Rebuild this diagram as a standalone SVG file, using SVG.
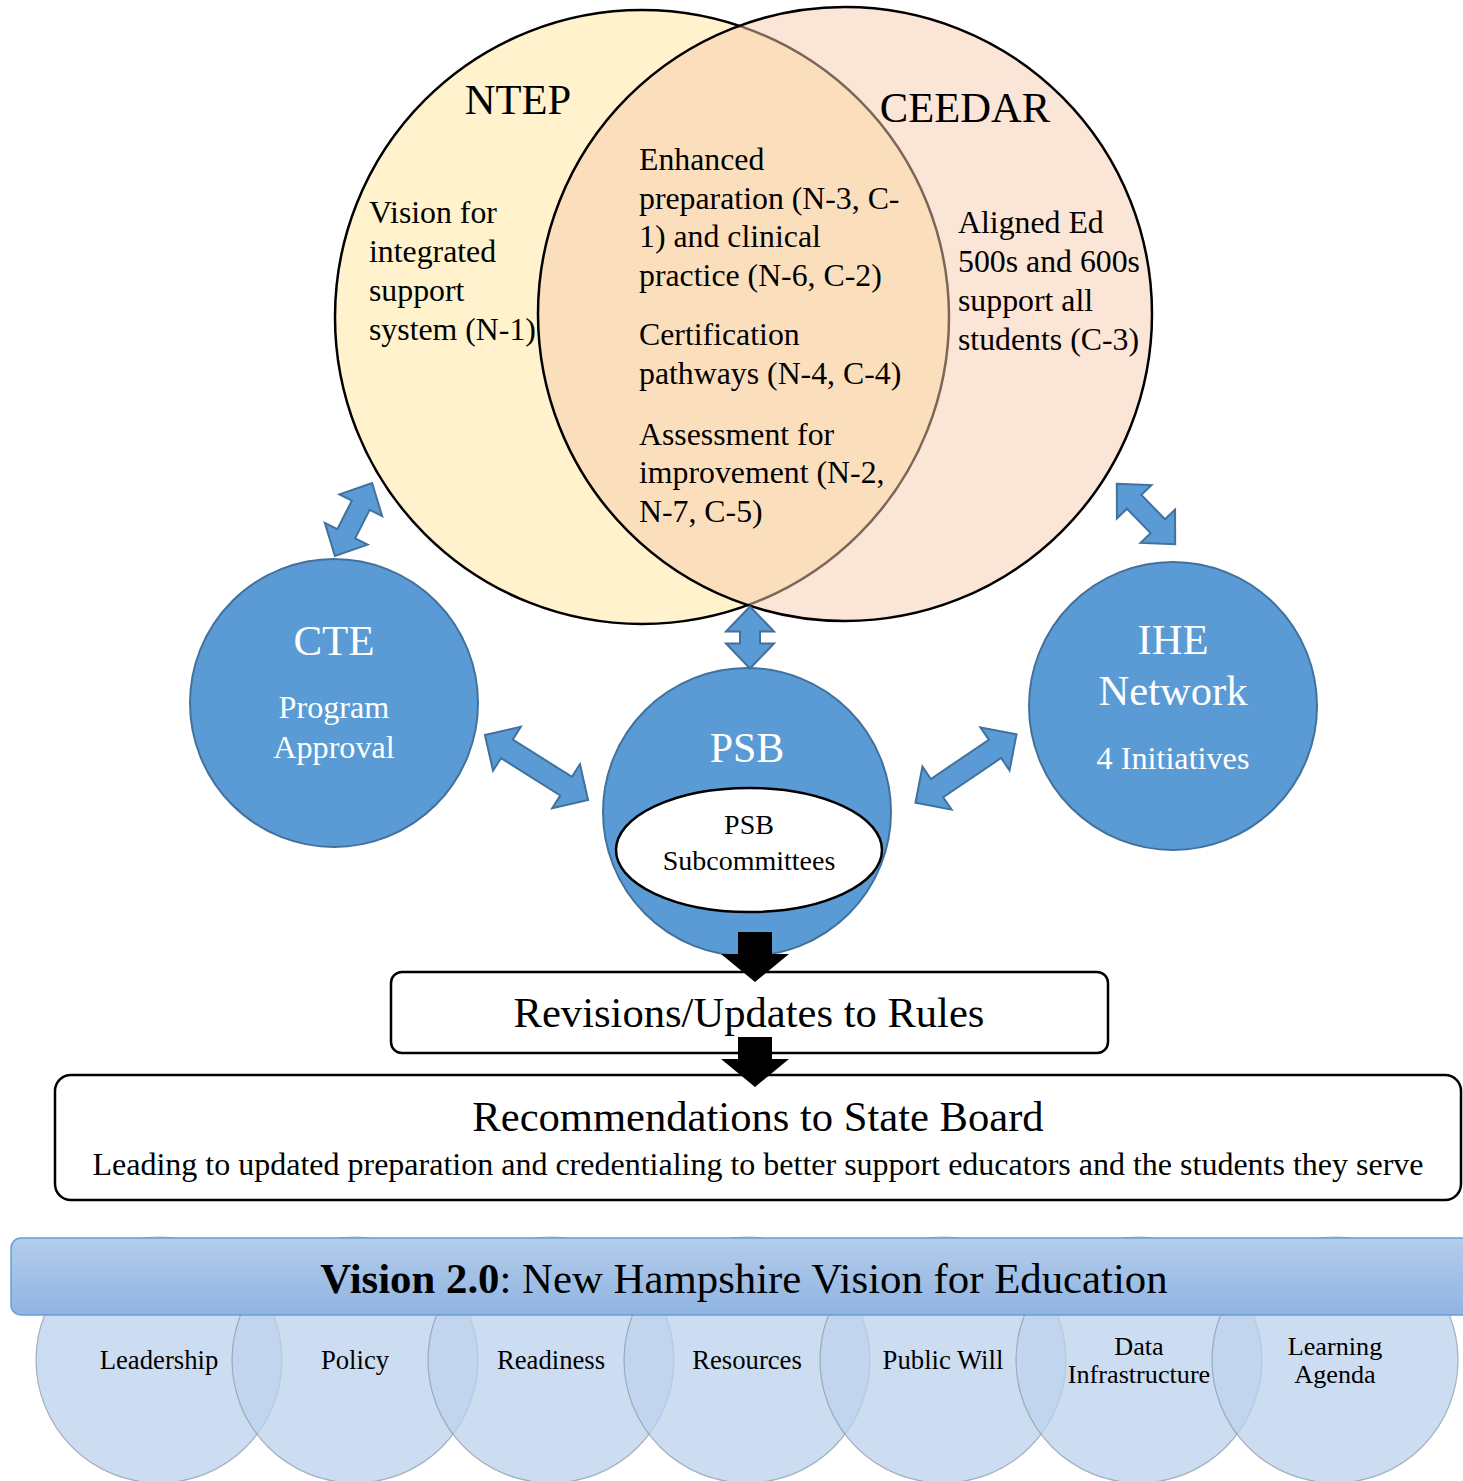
<svg xmlns="http://www.w3.org/2000/svg" width="1463" height="1481" viewBox="0 0 1463 1481">
<style>
text{font-family:"Liberation Serif","Times New Roman",serif;fill:#000}
.w{fill:#fff}
.blue{fill:#5b9bd5;stroke:#41719c;stroke-width:2}
.arr{fill:#5b9bd5;stroke:#41719c;stroke-width:2;stroke-linejoin:miter}
.pill{fill:#bcd1ec;fill-opacity:0.75;stroke:#8a96a6;stroke-opacity:0.7;stroke-width:1.2}
.box{fill:#fff;stroke:#000;stroke-width:2.5}
</style>
<defs>
<linearGradient id="bar" x1="0" y1="0" x2="0" y2="1">
<stop offset="0" stop-color="#b4cdea"/>
<stop offset="1" stop-color="#8fb4e2"/>
</linearGradient>
</defs>

<g id="ntep">
<circle cx="642" cy="317" r="307" fill="#fff2cc" stroke="#000" stroke-width="2.5"/>
<text x="518" y="114" font-size="42.6" text-anchor="middle">NTEP</text>
<text font-size="31.8"><tspan x="369" y="223">Vision for</tspan><tspan x="369" y="262">integrated</tspan><tspan x="369" y="301">support</tspan><tspan x="369" y="340">system (N-1)</tspan></text>
</g>
<g id="ceedar">
<circle cx="845" cy="314" r="307" fill="#f7cbad" fill-opacity="0.5" stroke="#000" stroke-width="2.5"/>
<text x="965" y="122" font-size="42.6" text-anchor="middle">CEEDAR</text>
<text font-size="31.8"><tspan x="958" y="233">Aligned Ed</tspan><tspan x="958" y="272">500s and 600s</tspan><tspan x="958" y="311">support all</tspan><tspan x="958" y="350">students (C-3)</tspan></text>
</g>
<g id="overlap-text">
<text font-size="31.8"><tspan x="639" y="170">Enhanced</tspan><tspan x="639" y="209">preparation (N-3, C-</tspan><tspan x="639" y="247">1) and clinical</tspan><tspan x="639" y="286">practice (N-6, C-2)</tspan><tspan x="639" y="345">Certification</tspan><tspan x="639" y="384">pathways (N-4, C-4)</tspan><tspan x="639" y="445">Assessment for</tspan><tspan x="639" y="483">improvement (N-2,</tspan><tspan x="639" y="522">N-7, C-5)</tspan></text>
</g>

<g id="cte">
<circle class="blue" cx="334" cy="703" r="144"/>
<text class="w" x="334" y="655" font-size="43" text-anchor="middle">CTE</text>
<text class="w" x="334" y="718" font-size="32.2" text-anchor="middle">Program</text>
<text class="w" x="334" y="758" font-size="32.2" text-anchor="middle">Approval</text>
</g>
<g id="ihe">
<circle class="blue" cx="1173" cy="706" r="144"/>
<text class="w" x="1173" y="654" font-size="42.6" text-anchor="middle">IHE</text>
<text class="w" x="1173" y="705" font-size="42.6" text-anchor="middle">Network</text>
<text class="w" x="1173" y="769" font-size="32.2" text-anchor="middle">4 Initiatives</text>
</g>
<g id="psb">
<circle class="blue" cx="747" cy="812" r="144"/>
<text class="w" x="747" y="762" font-size="42" text-anchor="middle">PSB</text>
<ellipse cx="749" cy="850" rx="133" ry="62" fill="#fff" stroke="#000" stroke-width="2.5"/>
<text x="749" y="834" font-size="28" text-anchor="middle">PSB</text>
<text x="749" y="870" font-size="28" text-anchor="middle">Subcommittees</text>
</g>

<g id="connectors">
<polygon class="arr" points="-41,0 -16,-24 -16,-10 16,-10 16,-24 41,0 16,24 16,10 -16,10 -16,24" transform="translate(353.5,519.5) rotate(-63)"/>
<polygon class="arr" points="-42,0 -17,-24 -17,-10 17,-10 17,-24 42,0 17,24 17,10 -17,10 -17,24" transform="translate(1146,514) rotate(46)"/>
<polygon class="arr" points="-31,0 -6,-24 -6,-10 6,-10 6,-24 31,0 6,24 6,10 -6,10 -6,24" transform="translate(750,637.5) rotate(90)"/>
<polygon class="arr" points="-61,0 -35,-26 -35,-11 35,-11 35,-26 61,0 35,26 35,11 -35,11 -35,26" transform="translate(536.5,767.5) rotate(32.3)"/>
<polygon class="arr" points="-61,0 -35,-26 -35,-11 35,-11 35,-26 61,0 35,26 35,11 -35,11 -35,26" transform="translate(966,768.5) rotate(-34.1)"/>
</g>

<g id="rules">
<rect class="box" x="391" y="972" width="717" height="81" rx="11"/>
<text x="749" y="1027" font-size="42.6" text-anchor="middle">Revisions/Updates to Rules</text>
</g>
<g id="recommendations">
<rect class="box" x="55" y="1075" width="1406" height="125" rx="16"/>
<text x="758" y="1131" font-size="42.6" text-anchor="middle">Recommendations to State Board</text>
<text x="758" y="1175" font-size="32" text-anchor="middle">Leading to updated preparation and credentialing to better support educators and the students they serve</text>
</g>

<g id="flow-arrows">
<polygon fill="#000" points="738,932 772,932 772,954 789,954 755,982 721,954 738,954"/>
<polygon fill="#000" points="738,1037 772,1037 772,1059 789,1059 755,1087 721,1059 738,1059"/>
</g>

<g id="pillars">
<circle class="pill" cx="159" cy="1360" r="123"/>
<circle class="pill" cx="355" cy="1360" r="123"/>
<circle class="pill" cx="551" cy="1360" r="123"/>
<circle class="pill" cx="747" cy="1360" r="123"/>
<circle class="pill" cx="943" cy="1360" r="123"/>
<circle class="pill" cx="1139" cy="1360" r="123"/>
<circle class="pill" cx="1335" cy="1360" r="123"/>
<text font-size="26.7" text-anchor="middle"><tspan x="159" y="1369">Leadership</tspan></text>
<text font-size="26.7" text-anchor="middle"><tspan x="355" y="1369">Policy</tspan></text>
<text font-size="26.7" text-anchor="middle"><tspan x="551" y="1369">Readiness</tspan></text>
<text font-size="26.7" text-anchor="middle"><tspan x="747" y="1369">Resources</tspan></text>
<text font-size="26.7" text-anchor="middle"><tspan x="943" y="1369">Public Will</tspan></text>
<text font-size="26.2" text-anchor="middle"><tspan x="1139" y="1355">Data</tspan><tspan x="1139" y="1383">Infrastructure</tspan></text>
<text font-size="26.2" text-anchor="middle"><tspan x="1335" y="1355">Learning</tspan><tspan x="1335" y="1383">Agenda</tspan></text>
</g>

<g id="vision-bar">
<rect x="11" y="1238" width="1470" height="77" rx="10" fill="url(#bar)" stroke="#6a9fd6" stroke-width="1.5"/>
<text x="744" y="1293" font-size="42.8" text-anchor="middle"><tspan font-weight="bold">Vision 2.0</tspan>: New Hampshire Vision for Education</text>
</g>
</svg>
